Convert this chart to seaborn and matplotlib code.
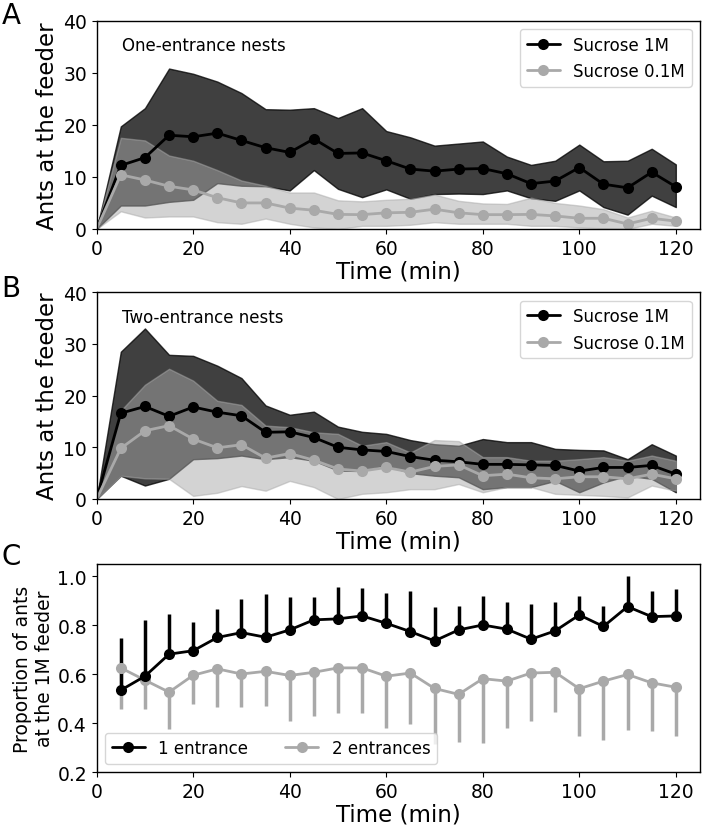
import numpy as np
import seaborn as sns
import matplotlib.pyplot as plt
from matplotlib.lines import Line2D

# time points (min)
time = list(range(0, 125, 5))
time_c = list(range(5, 125, 5))

# panel A: one-entrance nests (mean and band limits)
a_1m = [0, 12.2, 13.7, 18.0, 17.7, 18.4, 17.0, 15.6, 14.7, 17.3, 14.5, 14.6, 13.1,
        11.5, 11.1, 11.5, 11.6, 10.6, 8.7, 9.2, 11.8, 8.6, 7.9, 10.9, 8.1]
a_1m_hi = [0, 19.7, 23.2, 30.8, 29.8, 28.3, 26.1, 23.0, 22.9, 23.2, 21.3, 23.2, 18.8,
           17.6, 16.0, 16.4, 16.8, 13.9, 12.3, 13.1, 16.2, 13.0, 13.1, 15.4, 12.4]
a_1m_lo = [0, 4.5, 4.5, 5.2, 5.6, 8.8, 8.3, 8.2, 7.4, 11.3, 7.7, 6.1, 7.6,
           5.8, 6.7, 6.8, 6.7, 7.4, 5.9, 5.4, 7.4, 4.2, 2.75, 6.4, 4.2]
a_01m = [0, 10.4, 9.4, 8.2, 7.5, 6.0, 5.0, 5.0, 4.0, 3.6, 2.8, 2.75, 3.1,
         3.2, 3.8, 3.1, 2.75, 2.75, 2.8, 2.5, 2.05, 2.05, 0.96, 2.05, 1.5]
a_01m_hi = [0, 17.5, 17.0, 14.1, 13.1, 11.3, 9.3, 8.3, 7.0, 7.0, 5.5, 5.3, 5.6,
            5.8, 6.6, 5.4, 4.9, 4.8, 6.0, 5.0, 4.5, 3.8, 2.2, 3.5, 2.2]
a_01m_lo = [0, 3.4, 2.2, 2.4, 2.4, 1.3, 1.0, 2.0, 1.0, 0.3, 0, 0.6, 0.6,
            0.8, 1.3, 1.0, 1.0, 1.0, 0.6, 0.6, 0.3, 0.1, 0, 1.0, 0.6]

# panel B: two-entrance nests
b_1m = [0, 16.6, 17.9, 16.0, 17.8, 16.8, 16.1, 12.9, 13.0, 11.9, 10.0, 9.5, 9.2,
        8.2, 7.5, 7.2, 6.7, 6.7, 6.6, 6.5, 5.4, 6.1, 6.1, 6.5, 4.8]
b_1m_hi = [0, 28.5, 33.0, 27.9, 27.7, 25.8, 23.4, 18.1, 16.3, 16.9, 14.0, 13.0, 12.6,
           11.4, 10.6, 10.3, 11.6, 11.0, 11.0, 9.7, 9.5, 9.4, 7.7, 10.6, 8.4]
b_1m_lo = [0, 4.5, 2.6, 3.9, 7.7, 7.9, 8.4, 7.7, 8.1, 7.4, 5.5, 5.4, 6.5,
           5.0, 4.5, 4.2, 1.9, 2.3, 2.3, 3.5, 1.3, 3.2, 4.5, 3.9, 1.3]
b_01m = [0, 9.8, 13.2, 14.2, 11.6, 9.9, 10.5, 7.9, 8.8, 7.5, 5.8, 5.4, 6.1,
         5.2, 6.3, 6.6, 4.5, 4.8, 4.1, 3.9, 4.3, 4.3, 3.9, 4.8, 3.9]
b_01m_hi = [0, 17.1, 22.1, 25.2, 22.9, 19.0, 18.2, 14.2, 13.9, 12.9, 12.6, 10.3, 11.0,
            9.0, 11.4, 11.2, 8.1, 8.1, 7.4, 7.4, 7.7, 8.1, 7.4, 8.4, 7.4]
b_01m_lo = [0, 4.5, 4.0, 3.9, 0.6, 1.2, 2.5, 1.6, 3.5, 2.3, 0, 1.0, 1.3,
            1.9, 1.9, 2.9, 1.3, 2.3, 2.3, 1.0, 0.8, 0.6, 0.3, 2.6, 1.6]

# panel C: proportion at the 1M feeder
c_one = [0.535, 0.592, 0.682, 0.696, 0.750, 0.770, 0.751, 0.781, 0.822, 0.826, 0.838, 0.808,
         0.774, 0.736, 0.781, 0.801, 0.784, 0.743, 0.777, 0.842, 0.795, 0.876, 0.835, 0.838]
c_one_hi = [0.747, 0.822, 0.845, 0.815, 0.866, 0.909, 0.927, 0.914, 0.916, 0.954, 0.950, 0.930,
            0.941, 0.876, 0.878, 0.920, 0.893, 0.885, 0.893, 0.920, 0.880, 1.0, 0.939, 0.946]
c_two = [0.626, 0.576, 0.527, 0.596, 0.622, 0.601, 0.612, 0.595, 0.608, 0.626, 0.626, 0.592,
         0.605, 0.542, 0.518, 0.582, 0.572, 0.605, 0.608, 0.541, 0.572, 0.599, 0.565, 0.547]
c_two_lo = [0.457, 0.457, 0.378, 0.477, 0.468, 0.468, 0.470, 0.409, 0.430, 0.443, 0.443, 0.382,
            0.396, 0.315, 0.322, 0.318, 0.382, 0.409, 0.447, 0.349, 0.332, 0.372, 0.369, 0.349]

DARK = 'black'
LIGHT = 'darkgray'
TICK_FS = 13.5
LABEL_FS = 16.5
SMALL_FS = 12

sns.set_style('ticks')
plt.rcParams['font.family'] = ['DejaVu Sans']
plt.rcParams.update({'text.color': 'black', 'axes.labelcolor': 'black',
                     'xtick.color': 'black', 'ytick.color': 'black'})

fig = plt.figure(figsize=(7.02, 8.29), dpi=100)
ax_a = fig.add_axes([0.1377, 0.7226, 0.8594, 0.2513])
ax_b = fig.add_axes([0.1377, 0.3969, 0.8594, 0.2493])
ax_c = fig.add_axes([0.1377, 0.0672, 0.8594, 0.2513])


def band_panel(ax, m1, lo1, hi1, m2, lo2, hi2, title):
    ax.fill_between(time, lo1, hi1, color=DARK, alpha=0.75, lw=1)
    ax.fill_between(time, lo2, hi2, color=LIGHT, alpha=0.5, lw=1)
    sns.lineplot(x=time, y=m1, ax=ax, color=DARK, lw=2, marker='o', markersize=8,
                 markeredgewidth=0, markevery=slice(1, None), label='Sucrose 1M')
    sns.lineplot(x=time, y=m2, ax=ax, color=LIGHT, lw=2, marker='o', markersize=8,
                 markeredgewidth=0, markevery=slice(1, None), label='Sucrose 0.1M')
    ax.set_xlim(0, 125)
    ax.set_ylim(0, 40)
    ax.set_xticks(range(0, 121, 20))
    ax.set_yticks(range(0, 41, 10))
    ax.set_xlabel('Time (min)', fontsize=LABEL_FS, labelpad=1)
    ax.set_ylabel('Ants at the feeder', fontsize=LABEL_FS, labelpad=3)
    ax.text(0.042, 0.925, title, transform=ax.transAxes, fontsize=SMALL_FS, va='top')
    ax.legend(loc='upper right', fontsize=SMALL_FS, framealpha=0.8, edgecolor='#cccccc',
              handlelength=2, borderpad=0.4)


band_panel(ax_a, a_1m, a_1m_lo, a_1m_hi, a_01m, a_01m_lo, a_01m_hi, 'One-entrance nests')
band_panel(ax_b, b_1m, b_1m_lo, b_1m_hi, b_01m, b_01m_lo, b_01m_hi, 'Two-entrance nests')

# panel C: one-sided error bars
one_err = [np.zeros(len(c_one)), np.array(c_one_hi) - np.array(c_one)]
two_err = [np.array(c_two) - np.array(c_two_lo), np.zeros(len(c_two))]
ax_c.errorbar(time_c, c_two, yerr=two_err, color=LIGHT, lw=2, elinewidth=2.5,
              marker='o', markersize=8, markeredgewidth=0)
ax_c.errorbar(time_c, c_one, yerr=one_err, color=DARK, lw=2, elinewidth=2.5,
              marker='o', markersize=8, markeredgewidth=0)
ax_c.set_xlim(0, 125)
ax_c.set_ylim(0.2, 1.05)
ax_c.set_xticks(range(0, 121, 20))
ax_c.set_yticks([0.2, 0.4, 0.6, 0.8, 1.0])
ax_c.set_xlabel('Time (min)', fontsize=LABEL_FS, labelpad=1)
ax_c.set_ylabel('Proportion of ants\nat the 1M feeder', fontsize=13.5, labelpad=2)
handles = [Line2D([], [], color=DARK, lw=2, marker='o', markersize=8, markeredgewidth=0),
           Line2D([], [], color=LIGHT, lw=2, marker='o', markersize=8, markeredgewidth=0)]
ax_c.legend(handles, ['1 entrance', '2 entrances'], loc='lower left', ncol=2,
            fontsize=SMALL_FS, framealpha=0.8, edgecolor='#cccccc',
            columnspacing=2.2, borderpad=0.4)

for ax in (ax_a, ax_b, ax_c):
    ax.tick_params(labelsize=TICK_FS)
    for s in ax.spines.values():
        s.set_linewidth(1)
        s.set_color('black')

for letter, ypos in (('A', 0.998), ('B', 0.668), ('C', 0.345)):
    fig.text(0.002, ypos, letter, fontsize=20, va='top', ha='left')

fig.savefig('out.png', dpi=100)
